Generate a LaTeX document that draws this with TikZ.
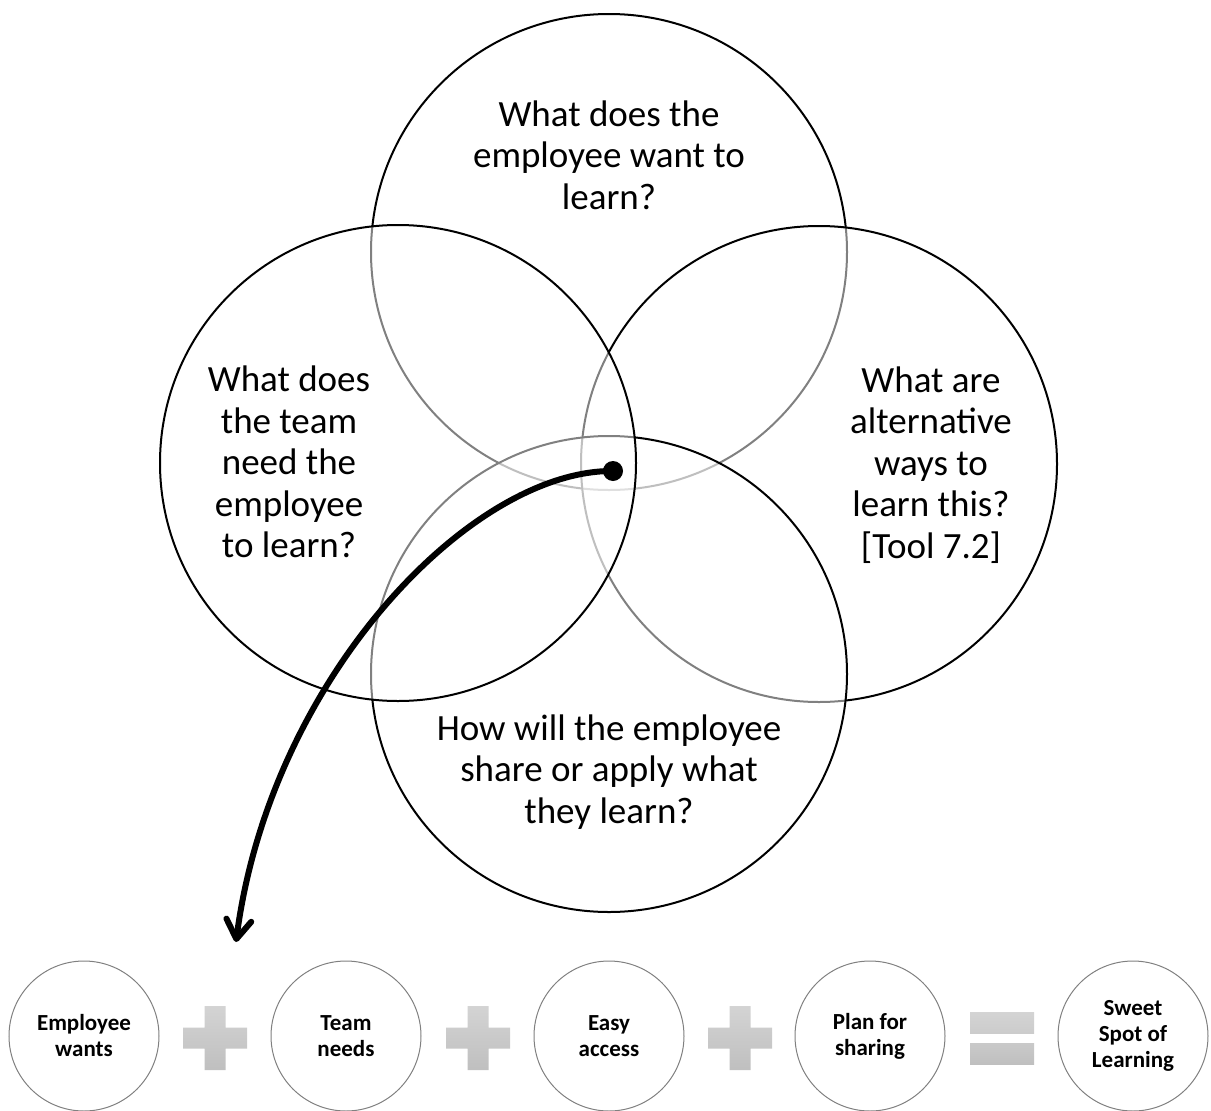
\documentclass[tikz,border=0pt]{standalone}
\usepackage{fontspec}
\setmainfont{Carlito}
\usetikzlibrary{arrows.meta}
\begin{document}
\begin{tikzpicture}[x=1pt,y=-1pt,
  big/.style={circle, draw=black, line width=2pt, fill=white, fill opacity=0.5, minimum size=476pt, inner sep=0pt},
  bigtext/.style={align=center, font=\fontsize{37}{41.5}\selectfont, text=black, inner sep=0pt},
  small/.style={circle, draw=black!50, line width=1pt, fill=white, minimum size=150pt, inner sep=0pt, align=center, font=\bfseries\fontsize{23}{26}\selectfont},
  plussign/.pic={\shade[top color=black!17, bottom color=black!25]
     (-32,-10.5) -- (-10.5,-10.5) -- (-10.5,-32) -- (10.5,-32) -- (10.5,-10.5) -- (32,-10.5)
     -- (32,10.5) -- (10.5,10.5) -- (10.5,32) -- (-10.5,32) -- (-10.5,10.5) -- (-32,10.5) -- cycle;},
  equalsign/.pic={\shade[top color=black!17, bottom color=black!20] (-32,-26) rectangle (32,-5);
     \shade[top color=black!21, bottom color=black!25] (-32,5) rectangle (32,26);},
  arrowline/.style={line width=6pt, -{Straight Barb[length=19pt, width=25pt, round]}}
  ]
\useasboundingbox (0,0) rectangle (1211,1111);
% Venn circles (back to front)
\node[big] (ctop) at (609,252) {};
\node[big] (cright) at (819,464) {};
\node[big] (cbottom) at (609,674) {};
\node[big] (cleft) at (398,463) {};
% texts
\node[bigtext] (ttop) at (609,155) {What does the\\employee want to\\learn?};
\node[bigtext] (tleft) at (289,462) {What does\\the team\\need the\\employee\\to learn?};
\node[bigtext] (tright) at (931,465) {What are\\alternative\\ways to\\learn this?\\{[Tool 7.2]}};
\node[bigtext] (tbottom) at (609,772) {How will the employee\\share or apply what\\they learn?};
% arrow
\node[circle, fill=black, minimum size=20pt, inner sep=0pt] (dot) at (613,471) {};
\coordinate (tip) at (236,942);
\draw[arrowline] (dot.center) .. controls (470,470) and (270,680) .. (tip);
% bottom row
\node[small] (s1) at (84,1036) {Employee\\wants};
\node[small] (s2) at (346,1036) {Team\\needs};
\node[small] (s3) at (609,1036) {Easy\\access};
\node[small] (s4) at (870,1036) {Plan for\\sharing};
\node[small] (s5) at (1133,1036) {Sweet\\Spot of\\Learning};
\pic at (215,1038) {plussign};
\pic at (478,1038) {plussign};
\pic at (740,1038) {plussign};
\pic at (1002,1038) {equalsign};
\end{tikzpicture}
\end{document}
